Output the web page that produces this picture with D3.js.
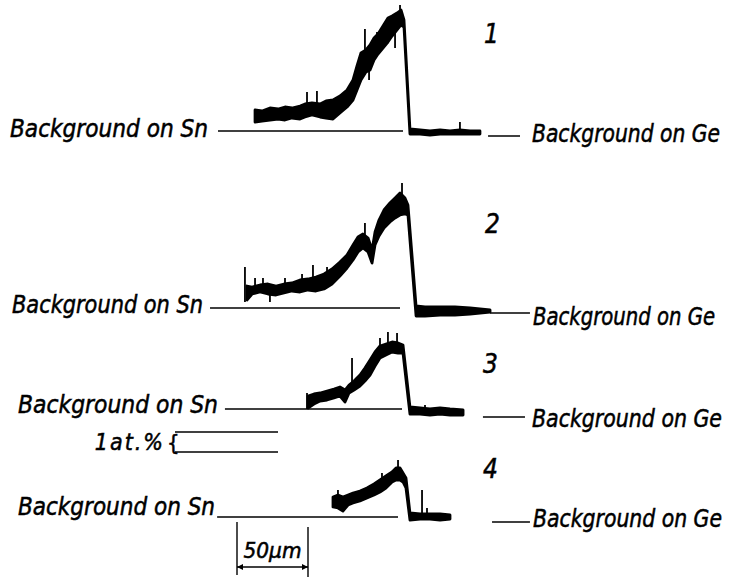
<!DOCTYPE html>
<html>
<head>
<meta charset="utf-8">
<script src="https://cdn.jsdelivr.net/npm/d3@7"></script>
<style>
  body { margin: 0; background: #fff; }
  svg text {
    font-family: "Liberation Sans Narrow", "DejaVu Sans Condensed", "DejaVu Sans", sans-serif;
    font-stretch: condensed;
    font-style: italic;
    fill: #000;
    stroke: #000;
    stroke-width: 0.5px;
  }
</style>
</head>
<body>
<svg id="chart" width="741" height="579"></svg>
<script>
// x: distance in µm (0 = left end of the 50 µm bar), values: at.% above Sn background
// each row: [x, lower edge of the trace band, upper edge]
const trace1 = [
  [12.7,0.45,1.05],[17.6,0.5,1.0],[23.2,0.55,1.15],[28.9,0.6,1.1],[33.8,0.55,1.2],[38.7,0.65,1.15],
  [44.4,0.6,1.25],[47.9,0.7,1.35],[52.8,0.8,1.4],[58.5,0.7,1.35],[62.7,0.65,1.5],[67.6,0.6,1.55],
  [72.5,0.9,1.75],[77.5,1.2,2.05],[81.7,1.55,2.55],[84.5,2.05,3.25],[87.3,2.55,3.9],[90.8,2.95,4.05],
  [93.7,3.05,4.3],[96.5,3.55,4.65],[99.3,3.85,4.85],[102.8,4.15,5.25],[106.3,4.45,5.65],[109.2,4.75,5.75],
  [112.7,5.05,5.9],[115.5,5.3,6.05],[117.6,5.2,5.55],
  [121.8,-0.15,0.1],[128.9,-0.15,0.05],[135.9,-0.2,0.0],[143.0,-0.15,0.05],[150.0,-0.15,0.0],
  [157.0,-0.15,0.05],[164.1,-0.15,0.0],[171.1,-0.15,0.0]
];
const trace2 = [
  [7.0,0.4,1.1],[10.6,0.7,1.05],[16.2,0.8,1.15],[21.8,0.7,1.2],[27.5,0.65,1.1],[33.1,0.75,1.2],
  [38.7,0.85,1.25],[44.4,0.8,1.4],[50.0,0.9,1.45],[55.6,0.85,1.55],[61.3,0.95,1.7],[66.9,1.2,1.95],
  [72.5,1.6,2.3],[77.5,2.0,2.65],[81.7,2.4,3.15],[85.2,2.8,3.55],[88.7,3.0,3.7],[92.3,2.8,3.5],
  [95.1,2.25,2.9],[97.2,3.15,3.8],[100.0,3.6,4.4],[103.5,4.0,4.9],[107.7,4.3,5.25],[111.3,4.5,5.5],
  [114.8,4.65,5.75],[118.3,4.7,5.5],[120.4,4.65,5.15],
  [126.1,-0.4,0.1],[132.4,-0.4,0.05],[143.0,-0.35,0.05],[153.5,-0.35,0.05],[164.1,-0.3,0.0],
  [171.1,-0.25,-0.05],[178.2,-0.2,-0.1]
];
const trace3 = [
  [50.0,0.05,0.65],[54.2,0.25,0.75],[58.5,0.4,0.8],[63.4,0.45,0.9],[68.3,0.55,1.0],[72.5,0.65,1.1],
  [76.1,0.35,0.95],[78.9,0.8,1.2],[82.4,0.95,1.4],[86.6,1.15,1.7],[90.1,1.4,2.05],[93.7,1.7,2.45],
  [97.2,2.15,2.85],[100.7,2.55,3.15],[104.9,2.7,3.25],[109.2,2.85,3.35],[113.4,2.8,3.3],[116.9,2.8,3.2],
  [121.8,-0.25,0.1],[128.9,-0.25,0.05],[135.9,-0.3,0.0],[143.0,-0.25,0.05],[150.0,-0.3,0.0],[159.2,-0.3,-0.05]
];
const trace4 = [
  [67.6,0.5,1.0],[71.1,0.45,1.1],[74.6,0.3,1.0],[78.2,0.6,1.1],[81.7,0.7,1.2],[86.6,0.8,1.3],
  [91.5,0.95,1.45],[96.5,1.1,1.65],[100.7,1.25,1.85],[104.9,1.45,2.05],[109.2,1.75,2.25],[112.0,1.85,2.45],
  [114.8,1.85,2.45],[116.9,1.75,2.2],[119.0,1.45,1.95],
  [121.8,-0.15,0.2],[128.9,-0.1,0.15],[135.9,-0.1,0.15],[143.0,-0.15,0.15],[150.0,-0.1,0.1]
];

// narrow spikes on the traces: [x, from, to]
const spikes1 = [[49.3,0.7,1.95],[56.3,0.7,2.0],[90.1,3.0,5.1],[93.0,3.0,2.55],[98.6,3.8,4.95],[111.3,5.5,4.15],[114.8,5.5,6.3],[157.0,0.0,0.45]];
const spikes2 = [[5.6,0.3,2.05],[12.7,0.8,1.5],[18.3,0.9,1.5],[23.2,0.7,0.3],[33.8,0.9,1.5],[45.8,1.2,1.7],[53.5,1.3,2.15],[63.4,1.5,2.05],[90.1,3.5,4.25],[116.2,5.5,6.25]];
const spikes3 = [[49.3,0.0,0.8],[81.0,1.0,2.55],[100.7,3.0,3.55],[106.3,3.0,3.85],[112.7,3.0,3.8],[132.4,0.0,0.2]];
const spikes4 = [[71.1,0.5,1.35],[102.1,1.5,2.2],[113.4,2.0,2.85],[130.3,0.0,1.35],[133.8,0.0,0.45]];

// background reference lines: [x start, x end, level]
const snLines = [[-13.4,116.9,0],[-19.0,114.8,0],[-8.5,116.2,0],[-14.0,113.4,0]];
const geLines = [[176.8,199.3,-0.25],[178.2,206.3,-0.25],[173.2,202.8,-0.4],[179.6,206.3,-0.25]];

const traceNames = ["1", "2", "3", "4"];
const snLabel = "Background on Sn";
const geLabel = "Background on Ge";
const scaleBarLabel = "50µm";
const scaleBarLength = 50;
const concLabel = "1at.%";
const concUnit = 1;

const traces = [trace1, trace2, trace3, trace4];
const spikes = [spikes1, spikes2, spikes3, spikes4];

// layout
const baseY = [131, 308, 409, 517];
const pxPerAt = 20;
const snText = [{x:208,y:137,w:198},{x:203,y:313,w:191},{x:218,y:413,w:200},{x:215,y:515,w:197}];
const geText = [{x:532,y:142,w:188},{x:533,y:325,w:182},{x:532,y:427,w:190},{x:533,y:527,w:189}];
const numText = [{x:484,y:43},{x:485,y:233},{x:483,y:373},{x:483,y:478}];

const svg = d3.select("#chart");

const x = d3.scaleLinear().domain([0, scaleBarLength]).range([237, 308]);

traces.forEach((data, i) => {
    const y = d3.scaleLinear().domain([0, 1]).range([baseY[i], baseY[i] - pxPerAt]);
    const g = svg.append("g").attr("class", "trace trace-" + traceNames[i]);

    // Sn background line
    const sn = snLines[i];
    g.append("line")
        .attr("x1", x(sn[0])).attr("x2", x(sn[1]))
        .attr("y1", y(sn[2])).attr("y2", y(sn[2]))
        .attr("stroke", "#000").attr("stroke-width", 1.4);

    // Ge background line
    const ge = geLines[i];
    g.append("line")
        .attr("x1", x(ge[0])).attr("x2", x(ge[1]))
        .attr("y1", y(ge[2])).attr("y2", y(ge[2]))
        .attr("stroke", "#000").attr("stroke-width", 1.4);

    // noisy trace band
    const area = d3.area()
        .x(d => x(d[0]))
        .y0(d => y(d[1]))
        .y1(d => y(d[2]));
    g.append("path")
        .datum(data)
        .attr("d", area)
        .attr("fill", "#000")
        .attr("stroke", "#000")
        .attr("stroke-width", 2.8)
        .attr("stroke-linejoin", "round");

    g.selectAll(".spike")
        .data(spikes[i])
        .enter()
        .append("line")
        .attr("class", "spike")
        .attr("x1", d => x(d[0])).attr("x2", d => x(d[0]))
        .attr("y1", d => y(d[1])).attr("y2", d => y(d[2]))
        .attr("stroke", "#000").attr("stroke-width", 1.8);

    g.append("text")
        .attr("x", snText[i].x).attr("y", snText[i].y)
        .attr("text-anchor", "end")
        .attr("textLength", snText[i].w)
        .attr("lengthAdjust", "spacingAndGlyphs")
        .style("font-size", "24px")
        .text(snLabel);

    g.append("text")
        .attr("x", geText[i].x).attr("y", geText[i].y)
        .attr("textLength", geText[i].w)
        .attr("lengthAdjust", "spacingAndGlyphs")
        .style("font-size", "24px")
        .text(geLabel);

    g.append("text")
        .attr("x", numText[i].x).attr("y", numText[i].y)
        .style("font-size", "26px")
        .text(traceNames[i]);
});

// 1 at.% concentration bracket
const yc = d3.scaleLinear().domain([0, concUnit]).range([452, 452 - pxPerAt]);
const conc = svg.append("g").attr("class", "conc-bar");
[0, concUnit].forEach(v => {
    conc.append("line")
        .attr("x1", 175).attr("x2", 278)
        .attr("y1", yc(v)).attr("y2", yc(v))
        .attr("stroke", "#000").attr("stroke-width", 1.3);
});
conc.append("text")
    .attr("x", 165).attr("y", 450)
    .attr("text-anchor", "end")
    .style("font-size", "23px")
    .style("letter-spacing", "2px")
    .text(concLabel);
conc.append("text")
    .attr("x", 167).attr("y", 450)
    .style("font-size", "22px")
    .style("font-style", "normal")
    .text("{");

// 50 µm scale bar
svg.append("defs").append("marker")
    .attr("id", "arrow")
    .attr("viewBox", "0 0 10 10")
    .attr("refX", 10).attr("refY", 5)
    .attr("markerWidth", 8).attr("markerHeight", 6)
    .attr("markerUnits", "userSpaceOnUse")
    .attr("orient", "auto-start-reverse")
    .append("path")
    .attr("d", "M0,0L10,5L0,10z")
    .attr("fill", "#000");

const bar = svg.append("g").attr("class", "scale-bar");
bar.append("line")
    .attr("x1", x(0)).attr("x2", x(0))
    .attr("y1", 522).attr("y2", 575)
    .attr("stroke", "#000").attr("stroke-width", 1.4);
bar.append("line")
    .attr("x1", x(scaleBarLength)).attr("x2", x(scaleBarLength))
    .attr("y1", 527).attr("y2", 577)
    .attr("stroke", "#000").attr("stroke-width", 1.4);
bar.append("line")
    .attr("x1", x(0)).attr("x2", x(scaleBarLength))
    .attr("y1", 567).attr("y2", 567)
    .attr("stroke", "#000").attr("stroke-width", 1.4)
    .attr("marker-start", "url(#arrow)")
    .attr("marker-end", "url(#arrow)");
bar.append("text")
    .attr("x", x(scaleBarLength / 2)).attr("y", 558)
    .attr("text-anchor", "middle")
    .attr("textLength", 58)
    .attr("lengthAdjust", "spacingAndGlyphs")
    .style("font-size", "21px")
    .text(scaleBarLabel);
</script>
</body>
</html>
